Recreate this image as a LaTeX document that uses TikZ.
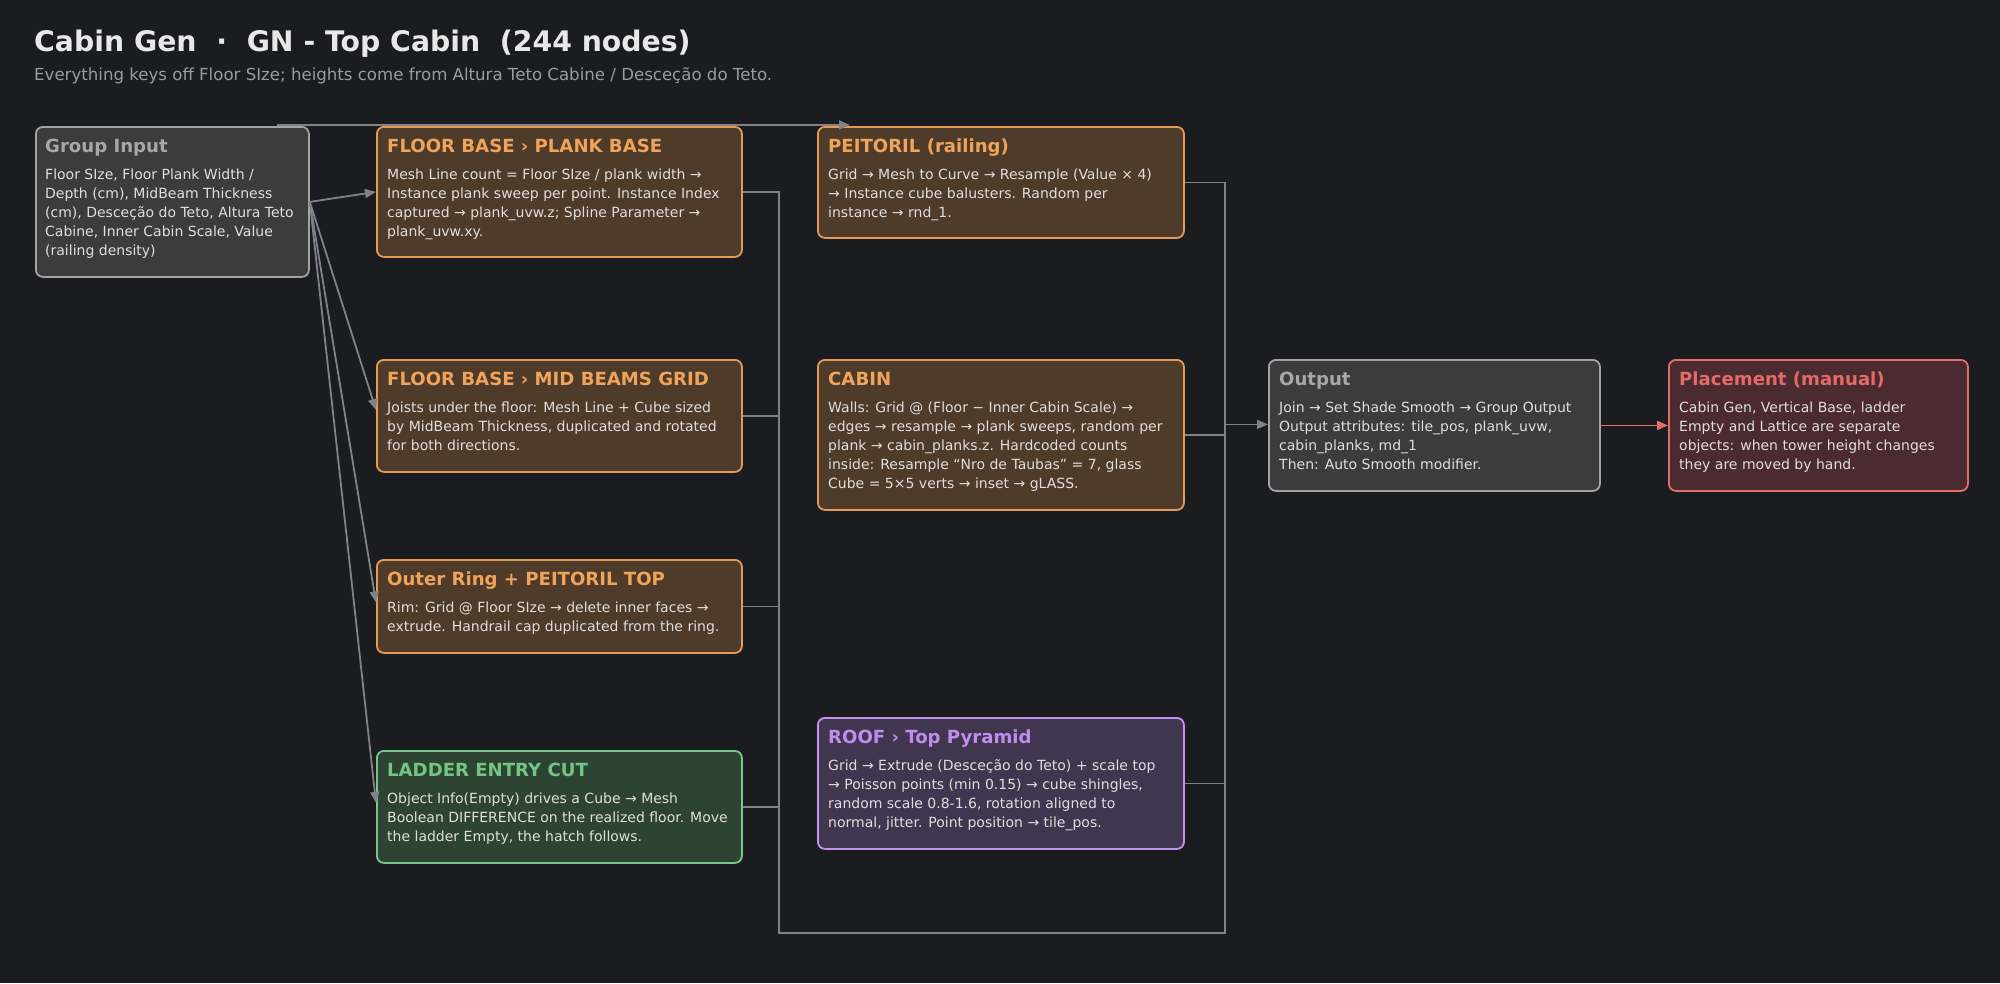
\documentclass[tikz,border=0pt]{standalone}
\usepackage{fontspec}
\setmainfont{DejaVu Sans}
\usetikzlibrary{arrows.meta,calc}
\definecolor{bg}{HTML}{1B1C1F}
\definecolor{titleC}{HTML}{E8E8E8}
\definecolor{subC}{HTML}{9A9B9E}
\definecolor{txt}{HTML}{E0DEDC}
\definecolor{wireC}{HTML}{7F8286}
\definecolor{orF}{HTML}{4E3B2A}
\definecolor{orB}{HTML}{E69B55}
\definecolor{orT}{HTML}{F0A35A}
\definecolor{grF}{HTML}{3C3C3D}
\definecolor{grB}{HTML}{A3A3A3}
\definecolor{grT}{HTML}{A8A8A8}
\definecolor{gnF}{HTML}{2E4433}
\definecolor{gnB}{HTML}{78C889}
\definecolor{gnT}{HTML}{72C583}
\definecolor{puF}{HTML}{41364F}
\definecolor{puB}{HTML}{C592F2}
\definecolor{puT}{HTML}{C08CEE}
\definecolor{rdF}{HTML}{4B2B2F}
\definecolor{rdB}{HTML}{E26D6D}
\definecolor{rdT}{HTML}{E46A6A}
\newcommand\bodylines[1]{\parbox[t]{420pt}{\raggedright #1}}
\tikzset{
  card/.style={draw, line width=1.8pt, rounded corners=7pt, anchor=north west, inner sep=0pt},
  orcard/.style={card, draw=orB, fill=orF},
  grcard/.style={card, draw=grB, fill=grF},
  gncard/.style={card, draw=gnB, fill=gnF},
  pucard/.style={card, draw=puB, fill=puF},
  rdcard/.style={card, draw=rdB, fill=rdF},
  hdr/.style={anchor=base west, inner sep=0pt, font=\fontsize{18.1}{22}\selectfont\bfseries},
  bodytxt/.style={anchor=base west, inner sep=0pt, text=txt, font=\fontsize{14}{19}\selectfont},
  wire/.style={draw=wireC, line width=1.8pt},
  arr/.style={wire, -{Triangle[length=11pt,width=9pt]}},
}
\begin{document}
\begin{tikzpicture}[x=1pt,y=-1pt]
\fill[bg] (0,0) rectangle (2000,983);
\useasboundingbox (0,0) rectangle (2000,983);

\node[anchor=base west, inner sep=0pt, text=titleC, font=\fontsize{28.3}{32}\selectfont\bfseries] (title) at (34,51.7) {Cabin Gen\ \ ·\ \ GN - Top Cabin\ \ (244 nodes)};
\node[anchor=base west, inner sep=0pt, text=subC, font=\fontsize{16.6}{19}\selectfont] (sub) at (34,80.5) {Everything keys off Floor SIze; heights come from Altura Teto Cabine / Desceção do Teto.};

% cards
\node[grcard, minimum width=273pt, minimum height=150pt] (gi) at (35,126) {};
\node[orcard, minimum width=365pt, minimum height=130pt] (plank) at (376,126) {};
\node[orcard, minimum width=365pt, minimum height=112pt] (mid) at (376,359) {};
\node[orcard, minimum width=365pt, minimum height=93pt] (outer) at (376,559) {};
\node[gncard, minimum width=365pt, minimum height=112pt] (ladder) at (376,750) {};
\node[orcard, minimum width=366pt, minimum height=111pt] (peit) at (817,126) {};
\node[orcard, minimum width=366pt, minimum height=150pt] (cabin) at (817,359) {};
\node[pucard, minimum width=366pt, minimum height=131pt] (roof) at (817,717) {};
\node[grcard, minimum width=331pt, minimum height=131pt] (out) at (1268,359) {};
\node[rdcard, minimum width=299pt, minimum height=131pt] (place) at (1668,359) {};

% texts
\node[hdr, text=grT] (gi-h) at ($(gi.north west)+(10,26.5)$) {Group Input};
\node[bodytxt] (gi-b) at ($(gi.north west)+(10,53)$) {\bodylines{Floor SIze, Floor Plank Width /\\Depth (cm), MidBeam Thickness\\(cm), Desceção do Teto, Altura Teto\\Cabine, Inner Cabin Scale, Value\\(railing density)}};

\node[hdr, text=orT] (plank-h) at ($(plank.north west)+(11,26.5)$) {FLOOR BASE › PLANK BASE};
\node[bodytxt] (plank-b) at ($(plank.north west)+(11,53)$) {\bodylines{Mesh Line count = Floor SIze / plank width →\\Instance plank sweep per point. Instance Index\\captured → plank\_uvw.z; Spline Parameter →\\plank\_uvw.xy.}};

\node[hdr, text=orT] (mid-h) at ($(mid.north west)+(11,26.5)$) {FLOOR BASE › MID BEAMS GRID};
\node[bodytxt] (mid-b) at ($(mid.north west)+(11,53)$) {\bodylines{Joists under the floor: Mesh Line + Cube sized\\by MidBeam Thickness, duplicated and rotated\\for both directions.}};

\node[hdr, text=orT] (outer-h) at ($(outer.north west)+(11,26.5)$) {Outer Ring + PEITORIL TOP};
\node[bodytxt] (outer-b) at ($(outer.north west)+(11,53)$) {\bodylines{Rim: Grid @ Floor SIze → delete inner faces →\\extrude. Handrail cap duplicated from the ring.}};

\node[hdr, text=gnT] (ladder-h) at ($(ladder.north west)+(11,26.5)$) {LADDER ENTRY CUT};
\node[bodytxt] (ladder-b) at ($(ladder.north west)+(11,53)$) {\bodylines{Object Info(Empty) drives a Cube → Mesh\\Boolean DIFFERENCE on the realized floor. Move\\the ladder Empty, the hatch follows.}};

\node[hdr, text=orT] (peit-h) at ($(peit.north west)+(11,26.5)$) {PEITORIL (railing)};
\node[bodytxt] (peit-b) at ($(peit.north west)+(11,53)$) {\bodylines{Grid → Mesh to Curve → Resample (Value × 4)\\→ Instance cube balusters. Random per\\instance → rnd\_1.}};

\node[hdr, text=orT] (cabin-h) at ($(cabin.north west)+(11,26.5)$) {CABIN};
\node[bodytxt] (cabin-b) at ($(cabin.north west)+(11,53)$) {\bodylines{Walls: Grid @ (Floor − Inner Cabin Scale) →\\edges → resample → plank sweeps, random per\\plank → cabin\_planks.z. Hardcoded counts\\inside: Resample “Nro de Taubas” = 7, glass\\Cube = 5×5 verts → inset → gLASS.}};

\node[hdr, text=puT] (roof-h) at ($(roof.north west)+(11,26.5)$) {ROOF › Top Pyramid};
\node[bodytxt] (roof-b) at ($(roof.north west)+(11,53)$) {\bodylines{Grid → Extrude (Desceção do Teto) + scale top\\→ Poisson points (min 0.15) → cube shingles,\\random scale 0.8-1.6, rotation aligned to\\normal, jitter. Point position → tile\_pos.}};

\node[hdr, text=grT] (out-h) at ($(out.north west)+(11,26.5)$) {Output};
\node[bodytxt] (out-b) at ($(out.north west)+(11,53)$) {\bodylines{Join → Set Shade Smooth → Group Output\\Output attributes: tile\_pos, plank\_uvw,\\cabin\_planks, md\_1\\Then: Auto Smooth modifier.}};

\node[hdr, text=rdT] (place-h) at ($(place.north west)+(11,26.5)$) {Placement (manual)};
\node[bodytxt] (place-b) at ($(place.north west)+(11,53)$) {\bodylines{Cabin Gen, Vertical Base, ladder\\Empty and Lattice are separate\\objects: when tower height changes\\they are moved by hand.}};

% connectors
\coordinate (lb) at (779,933);
\coordinate (rb) at (1225,933);
\draw[arr] ([shift={(-33pt,1pt)}]gi.north east) -- ([shift={(33pt,1pt)}]peit.north west);
\draw[arr] (gi.east) -- (plank.west);
\draw[arr] (gi.east) -- ([yshift=6pt]mid.west);
\draw[arr] (gi.east) -- ([yshift=4pt]outer.west);
\draw[arr] (gi.east) -- ([yshift=4pt]ladder.west);

\draw[wire] (plank.east) -| (lb) -- (rb) |- (peit.east);
\draw[wire] (mid.east) -- (mid.east -| lb);
\draw[wire] (outer.east) -- (outer.east -| lb);
\draw[wire] (ladder.east) -- (ladder.east -| lb);
\draw[wire] (cabin.east) -- (cabin.east -| rb);
\draw[wire] (roof.east) -- (roof.east -| rb);
\draw[arr] ([yshift=1pt]out.west -| rb) -- ([yshift=1pt]out.west);
\draw[arr, draw=rdB] (out.east) -- (place.west);
\end{tikzpicture}
\end{document}
